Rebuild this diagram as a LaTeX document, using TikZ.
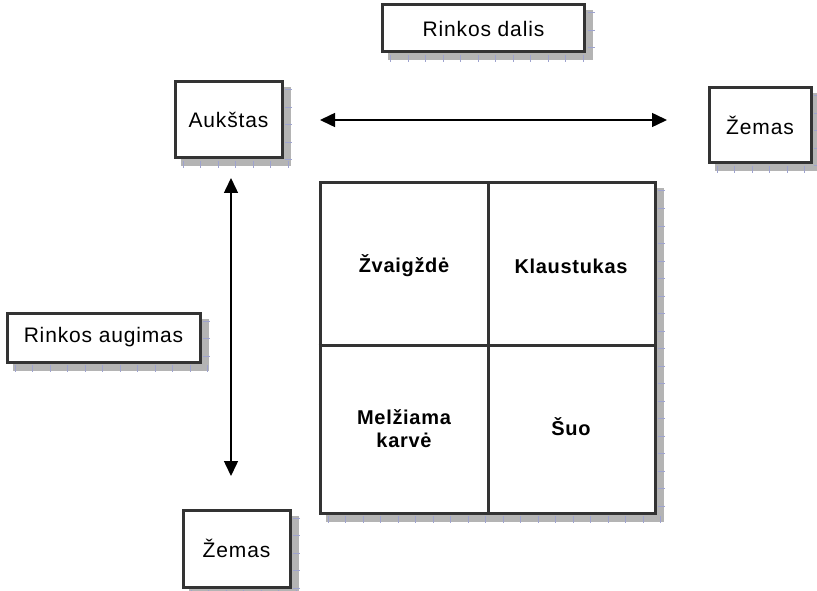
\documentclass[tikz,border=0pt]{standalone}
\usepackage{fontspec}
\setmainfont{Liberation Sans}
\newfontfamily\boxfont[LetterSpace=4]{Liberation Sans}
\newfontfamily\cellfont[LetterSpace=3.5]{Liberation Sans Bold}
\usetikzlibrary{arrows.meta,backgrounds}
\definecolor{frame}{HTML}{333333}
\definecolor{shadowgray}{HTML}{B4B4B4}
\definecolor{tick}{HTML}{9EA3CF}
\tikzset{
  shadowbox/.style={draw=frame, line width=3pt, fill=white,
    inner sep=0pt, font=\boxfont\fontsize{21}{24}\selectfont},
  celltext/.style={font=\cellfont\fontsize{20}{23}\selectfont, align=center},
  tickline/.style={draw=tick, line width=7pt, dash pattern=on 1pt off 16.5pt},
  axis/.style={line width=1.5pt, {Triangle[length=15pt,width=14pt]}-{Triangle[length=15pt,width=14pt]}}
}
% grey offset shadow of a box, with ruler-like marks on its two visible strips
\newcommand\boxshadow[1]{%
  \fill[shadowgray] ([xshift=7pt,yshift=-7pt]#1.south west) rectangle ([xshift=7pt,yshift=-7pt]#1.north east);
  \draw[tickline] ([xshift=9pt,yshift=-5pt]#1.south west) -- ([xshift=8.5pt,yshift=-5pt]#1.south east);
  \draw[tickline] ([xshift=5pt,yshift=-9pt]#1.north east) -- ([xshift=5pt,yshift=-3pt]#1.south east);
}
\begin{document}
\begin{tikzpicture}[x=1pt,y=-1pt]
\useasboundingbox (0,0) rectangle (817,591);

% labelled boxes
\node[shadowbox, minimum width=202pt, minimum height=47pt] (share) at (483.5,28.5) {Rinkos dalis};
\node[shadowbox, minimum width=107pt, minimum height=76pt] (high) at (228.5,120) {Aukštas};
\node[shadowbox, minimum width=102pt, minimum height=75pt] (lowR) at (760,125.5) {Žemas};
\node[shadowbox, minimum width=193pt, minimum height=49pt] (growth) at (103.5,337.5) {Rinkos augimas};
\node[shadowbox, minimum width=107pt, minimum height=77pt] (lowB) at (236.5,548.5) {Žemas};

% growth/share matrix
\node[shadowbox, minimum width=335pt, minimum height=330pt] (grid) at (487.5,348) {};
\draw[frame, line width=3pt] (grid.north) ++(0.5,0) coordinate (gt) -- (gt |- grid.south);
\draw[frame, line width=3pt] (grid.west) ++(0,-3) coordinate (gl) -- (gl -| grid.east);

\begin{scope}[on background layer]
  \fill[white] (0,0) rectangle (817,591);
  \foreach \b in {share,high,lowR,growth,lowB,grid} {\boxshadow{\b}}
\end{scope}

\node[celltext] (star) at (404,266) {Žvaigždė};
\node[celltext] (quest) at (571,266) {Klaustukas};
\node[celltext] (cow) at (404,429) {Melžiama\\karvė};
\node[celltext] (dog) at (571,427) {Šuo};

% axes
\coordinate (hL) at (320,120);
\coordinate (hR) at (667,120);
\coordinate (vT) at (231,178);
\coordinate (vB) at (231,476);
\draw[axis] (hL) -- (hR);
\draw[axis] (vT) -- (vB);
\end{tikzpicture}
\end{document}
